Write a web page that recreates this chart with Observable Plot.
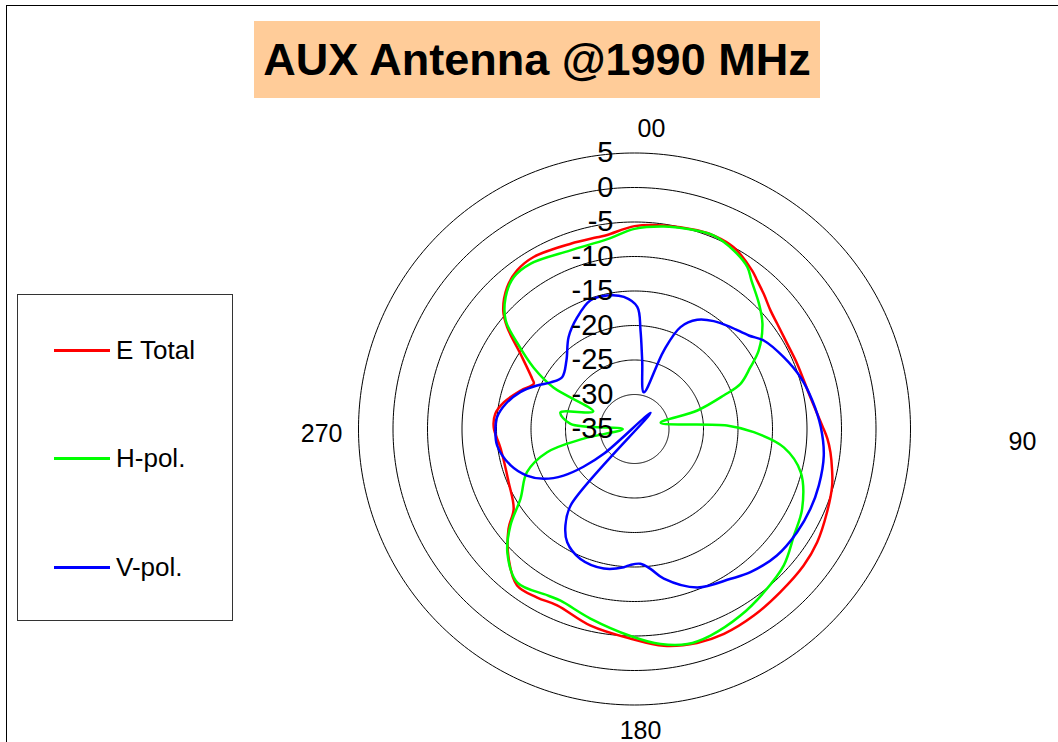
<!DOCTYPE html>
<html>
<head>
<meta charset="utf-8">
<script src="https://cdn.jsdelivr.net/npm/d3@7"></script>
<script src="https://cdn.jsdelivr.net/npm/@observablehq/plot@0.6"></script>
<style>
  html, body { margin: 0; padding: 0; width: 1058px; height: 742px; overflow: hidden; background: #fff; }
  body { position: relative; font-family: "Liberation Sans", Arial, sans-serif; }
  #frame { position: absolute; left: 6px; top: 5px; width: 1200px; height: 900px; border-left: 1.5px solid #000; border-top: 1.5px solid #000; }
  #chart { position: absolute; left: 0; top: 0; }
  #title { position: absolute; left: 254px; top: 21px; width: 566px; height: 77px; background: #FFCC99;
           font-weight: bold; font-size: 45px; line-height: 77px; text-align: center; color: #000; white-space: nowrap; }
  #legend { position: absolute; left: 17px; top: 294px; width: 214px; height: 325px; border: 1px solid #333; background: #fff; }
  .item { position: absolute; left: 36px; height: 30px; font-size: 26px; line-height: 30px; white-space: nowrap; }
  .item .sw { position: absolute; left: 0; top: 14px; width: 56px; height: 2.5px; }
  .item .lb { position: absolute; left: 62px; top: 0; }
</style>
</head>
<body>
<div id="frame"></div>
<div id="chart"></div>
<div id="title"></div>
<div id="legend"></div>
<script>
// ---- data (angle in degrees clockwise from top, level in dB) ----
const titleText = "AUX Antenna @1990 MHz";
const seriesNames = ["E Total", "H-pol.", "V-pol."];
const seriesColors = ["#ff0000", "#00ff00", "#0000ff"];
const ringLevels = [-30, -25, -20, -15, -10, -5, 0, 5];
const ringLabelLevels = [5, 0, -5, -10, -15, -20, -25, -30, -35];
const angleTickLabels = ["00", "90", "180", "270"];
const angleTicks = [0, 90, 180, 270];
const rMin = -35, rMax = 5;

const eTotalAngle = [0, 8, 17.5, 22.5, 28.6, 36.6, 39.6, 43.7, 48.9, 53.6, 60.8, 68.2, 79.8, 88.9, 92.9, 96.8, 101.4, 106, 113.4, 121.8, 128.9, 138.2, 147.4, 156.4, 163.7, 172.3, 181, 192.6, 203.7, 210, 216.9, 224.1, 231.6, 236.5, 247.1, 261.6, 270.6, 276.2, 281.6, 288.7, 294.2, 296.1, 303.4, 308.6, 312, 318, 323.5, 329.6, 341, 349, 352];
const eTotalDb = [-5.6, -5.2, -4.8, -4.7, -5.0, -6.4, -7.1, -7.9, -8.85, -9.3, -9.65, -9.6, -9.1, -7.8, -7.0, -6.4, -5.8, -5.2, -4.6, -3.85, -3.5, -3.3, -2.9, -2.6, -2.7, -3.3, -4.6, -5.8, -7.1, -6.8, -6.65, -8.8, -11.7, -14.0, -15.2, -15.4, -14.6, -14.7, -15.7, -17.6, -19.0, -18.5, -15.2, -11.4, -9.4, -7.4, -6.4, -6.1, -6.6, -6.7, -6.6];

const hPolAngle = [0, 8.2, 15, 22.3, 29.1, 34.9, 38.2, 44.8, 50.6, 57.7, 62, 66.9, 69.4, 73.6, 76.6, 87.8, 91.5, 97, 104.6, 115.4, 123.8, 132.4, 141.6, 150.4, 159.8, 166.2, 173.1, 181.1, 193.1, 203.3, 207.6, 217.3, 225.8, 232.1, 238.6, 248.1, 255.1, 259.3, 270, 274.5, 282.6, 293, 297.1, 301.3, 306.2, 310.1, 315.6, 321.4, 327.9, 340.3, 351.9];
const hPolDb = [-6.0, -5.35, -5.0, -4.7, -5.4, -6.4, -7.6, -9.4, -11.0, -13.7, -16.0, -18.3, -21.2, -25.5, -31.1, -21.6, -17.7, -13.2, -10.1, -8.1, -7.2, -5.7, -4.8, -3.9, -3.1, -2.9, -3.6, -5.0, -6.8, -7.9, -7.8, -7.0, -9.3, -12.2, -15.65, -18.2, -21.9, -27.5, -33.3, -25.7, -24.0, -28.5, -21.8, -17.9, -14.0, -10.6, -8.3, -6.9, -6.7, -7.5, -7.2];

const vPolAngle = [1.3, 3.5, 6.4, 14.2, 20.5, 24.3, 29.9, 36.3, 43.3, 50.7, 55.6, 64.3, 72.7, 80.9, 89.4, 98, 107, 114.4, 122.4, 131.6, 141, 147.3, 158.4, 168.9, 173.5, 177.5, 181.7, 184.4, 192.4, 202.6, 210.7, 215.6, 219.9, 225, 231, 233.5, 236.7, 241.2, 246.6, 253.6, 263.1, 270.6, 274.9, 281.1, 287.9, 294.1, 299.1, 305.6, 315.2, 324.4, 332.9, 341, 348.4, 355.4];
const vPolDb = [-17.3, -20.7, -25.0, -29.5, -22.9, -18.8, -16.75, -15.6, -14.7, -13.6, -12.3, -11.0, -9.8, -8.9, -8.0, -7.3, -7.06, -7.0, -7.1, -7.4, -8.3, -9.2, -10.3, -12.9, -14.6, -15.45, -15.3, -14.9, -14.3, -14.6, -15.9, -17.8, -20.6, -38.3, -29.4, -25.8, -22.7, -20.0, -18.0, -16.3, -14.95, -14.85, -15.0, -16.0, -17.6, -19.55, -21.1, -22.1, -21.0, -18.6, -16.8, -15.3, -15.25, -15.8];

// ---- helpers ----
const lon = a => 180 - a;              // angle clockwise from top -> longitude
const lat = v => 90 - (v - rMin);      // level -> latitude (pole = rMin)
const rows = (angles, dbs) => angles.map((a, i) => ({angle: a, db: dbs[i]}));
const eData = rows(eTotalAngle, eTotalDb);
const hData = rows(hPolAngle, hPolDb);
const vData = rows(vPolAngle, vPolDb);
const FONT = "'Liberation Sans', Arial, sans-serif";
const CURVE = "catmull-rom-closed";

const outer = ringLevels[ringLevels.length - 1];
const angleText = (i, opts) => Plot.text([angleTicks[i]], {
  x: a => lon(a), y: () => lat(outer), text: () => angleTickLabels[i],
  fontSize: 25, fill: "#000", ...opts
});

const chart = Plot.plot({
  width: 1058,
  height: 742,
  marginLeft: 358, marginRight: 148, marginTop: 152.5, marginBottom: 37.5,
  projection: {
    type: "azimuthal-equidistant",
    rotate: [0, -90],
    domain: d3.geoCircle().center([0, 90]).radius(rMax - rMin)()
  },
  style: {fontFamily: FONT, background: "transparent", overflow: "visible"},
  marks: [
    Plot.geo(ringLevels, {
      geometry: v => d3.geoCircle().center([0, 90]).radius(v - rMin).precision(1)(),
      stroke: "#000", strokeWidth: 1, fill: "none"
    }),
    Plot.line(eData, {x: d => lon(d.angle), y: d => lat(d.db), stroke: seriesColors[0], strokeWidth: 2.5, curve: CURVE}),
    Plot.line(hData, {x: d => lon(d.angle), y: d => lat(d.db), stroke: seriesColors[1], strokeWidth: 2.5, curve: CURVE}),
    Plot.line(vData, {x: d => lon(d.angle), y: d => lat(d.db), stroke: seriesColors[2], strokeWidth: 2.5, curve: CURVE}),
    Plot.text(ringLabelLevels, {
      x: () => lon(0), y: v => lat(v), text: v => String(v),
      textAnchor: "end", dx: -21, fontSize: 29, fill: "#000"
    }),
    angleText(0, {textAnchor: "start", dx: 3, dy: -24}),
    angleText(1, {textAnchor: "start", dx: 98, dy: 12.5}),
    angleText(2, {textAnchor: "middle", dx: 6, dy: 26}),
    angleText(3, {textAnchor: "end", dx: -16, dy: 4.5})
  ]
});
document.getElementById("chart").appendChild(chart);

document.getElementById("title").textContent = titleText;

const legend = document.getElementById("legend");
const legendTops = [40, 148, 257];
seriesNames.forEach((name, i) => {
  const item = document.createElement("div");
  item.className = "item";
  item.style.top = legendTops[i] + "px";
  const sw = document.createElement("span");
  sw.className = "sw";
  sw.style.background = seriesColors[i];
  const lb = document.createElement("span");
  lb.className = "lb";
  lb.textContent = name;
  item.appendChild(sw);
  item.appendChild(lb);
  legend.appendChild(item);
});
</script>
</body>
</html>
